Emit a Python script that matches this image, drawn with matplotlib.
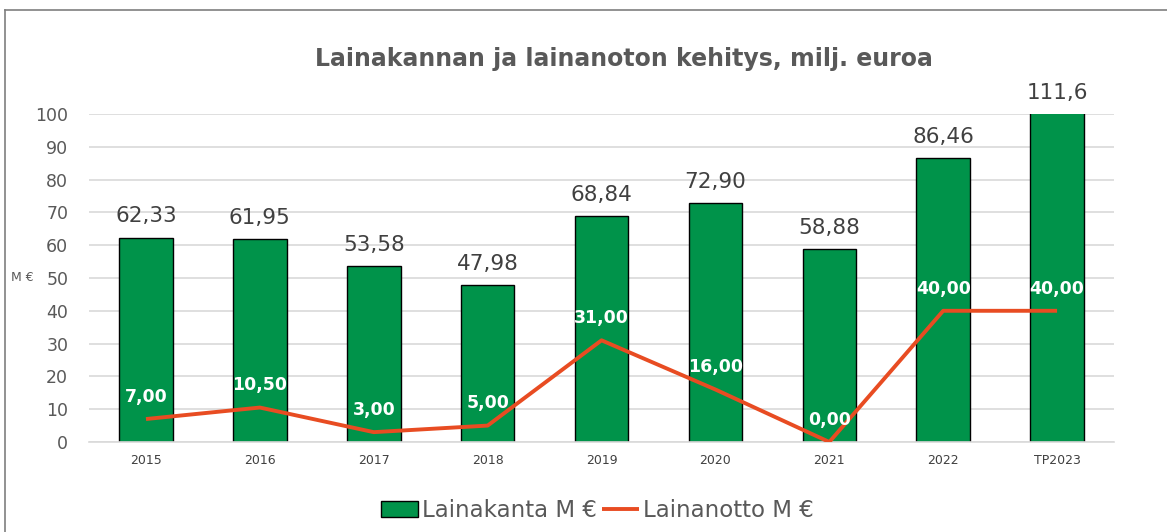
import numpy as np
import matplotlib.pyplot as plt
from matplotlib.lines import Line2D

years = ["2015", "2016", "2017", "2018", "2019", "2020", "2021", "2022", "TP2023"]
lainakanta = [62.33, 61.95, 53.58, 47.98, 68.84, 72.90, 58.88, 86.46, 111.6]
lainakanta_labels = ["62,33", "61,95", "53,58", "47,98", "68,84", "72,90", "58,88", "86,46", "111,6"]
lainanotto = [7.00, 10.50, 3.00, 5.00, 31.00, 16.00, 0.00, 40.00, 40.00]
lainanotto_labels = ["7,00", "10,50", "3,00", "5,00", "31,00", "16,00", "0,00", "40,00", "40,00"]

green = "#00934A"
orange = "#E84C22"
grey = "#595959"

plt.rcParams['font.family'] = ['DejaVu Sans']

fig = plt.figure(figsize=(11.67, 5.32), dpi=100)
ax = fig.add_axes([0.0763, 0.1692, 0.8783, 0.6165])

x = np.arange(len(years))
bars = ax.bar(x, lainakanta, width=0.47, color=green, edgecolor="black", linewidth=1.0,
              label="Lainakanta M €", zorder=2)
line, = ax.plot(x, lainanotto, color=orange, linewidth=2.8, label="Lainanotto M €", zorder=3,
                solid_capstyle="butt")

ax.set_ylim(0, 100)
ax.set_xlim(-0.5, len(years) - 0.5)

# value labels above bars (last one is clipped by the axis)
for xi, v, lab in zip(x, lainakanta, lainakanta_labels):
    ax.annotate(lab, (xi, min(v, 100)), xytext=(0, 8), textcoords="offset points",
                ha="center", va="bottom", fontsize=15.5, color="#404040", annotation_clip=False)

for xi, v, lab in zip(x, lainanotto, lainanotto_labels):
    ax.annotate(lab, (xi, v), xytext=(0, 16), textcoords="offset points",
                ha="center", va="center", fontsize=12.5, color="white", fontweight="bold", zorder=4)

ax.set_yticks(range(0, 101, 10))
ax.set_xticks(x)
ax.set_xticklabels(years)
ax.tick_params(axis="y", length=0, labelsize=12.5, labelcolor=grey, pad=15)
ax.tick_params(axis="x", length=0, labelsize=9, labelcolor="#404040", pad=9)
ax.grid(axis="y", color="#D9D9D9", linewidth=1.2, zorder=0)
ax.set_axisbelow(True)
for s in ["top", "right", "left"]:
    ax.spines[s].set_visible(False)
ax.spines["bottom"].set_color("#D9D9D9")
ax.spines["bottom"].set_linewidth(1.2)

fig.text(0.009, 0.479, "M €", fontsize=9, color=grey, ha="left", va="center")

fig.suptitle("Lainakannan ja lainanoton kehitys, milj. euroa", x=0.535, y=0.912,
             fontsize=17, fontweight="bold", color=grey)

fig.legend(handles=[bars, line], loc="center", bbox_to_anchor=(0.512, 0.04), ncol=2,
           frameon=False, fontsize=16.5, labelcolor=grey, handlelength=1.6,
           handletextpad=0.2, columnspacing=0.2)

# outer chart frame (left and top edges visible)
fig.add_artist(Line2D([0.0045, 0.0045], [0, 0.981], color="#7F7F7F", linewidth=1.2))
fig.add_artist(Line2D([0.0045, 1.0], [0.981, 0.981], color="#7F7F7F", linewidth=1.2))

fig.savefig("out.png", dpi=100)
